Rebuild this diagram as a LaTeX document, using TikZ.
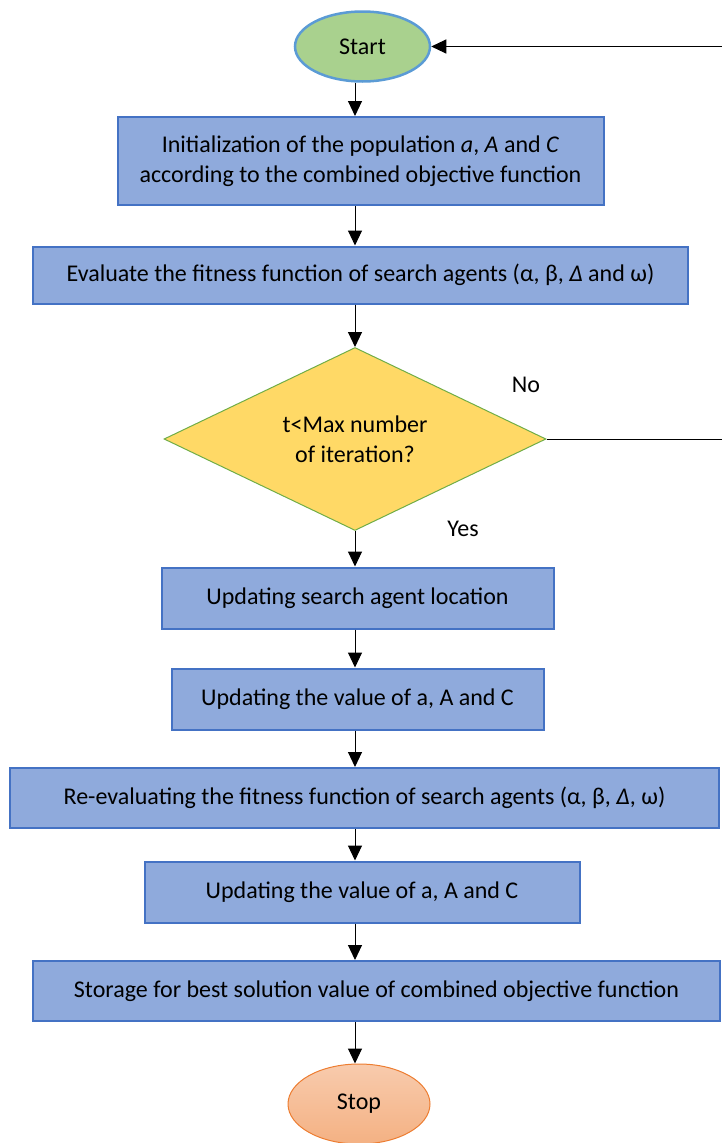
\documentclass[tikz,border=0pt]{standalone}
\usepackage{fontspec}
\setmainfont{Carlito}
\usetikzlibrary{shapes.geometric,arrows.meta,calc}
\definecolor{boxfill}{HTML}{8FAADC}
\definecolor{boxline}{HTML}{4472C4}
\definecolor{startfill}{HTML}{A9D18E}
\definecolor{startline}{HTML}{5B9BD5}
\definecolor{decfill}{HTML}{FFD966}
\definecolor{decline}{HTML}{70AD47}
\definecolor{stoptop}{HTML}{F8CBAD}
\definecolor{stopbot}{HTML}{F4B183}
\definecolor{stopline}{HTML}{ED7D31}
\begin{document}
\begin{tikzpicture}[x=1pt,y=-1pt,
  every node/.style={font=\fontsize{24}{30}\selectfont, inner sep=0pt},
  stepbox/.style={draw=boxline, fill=boxfill, line width=2pt, rectangle, align=center},
  startnode/.style={draw=startline, fill=startfill, line width=2.5pt, ellipse},
  stopnode/.style={draw=stopline, top color=stoptop, bottom color=stopbot, line width=1pt, ellipse},
  decnode/.style={draw=decline, fill=decfill, line width=1pt, diamond, aspect=2.1, align=center},
  arr/.style={draw=black, line width=1pt, -{Triangle[length=15pt,width=14pt]}}]
\useasboundingbox (0,0) rectangle (722,1143);
\coordinate (ax) at (355,0);
\node[startnode, minimum width=135, minimum height=70] (start) at (362.5,46.5) {Start};
\node[stepbox, minimum width=486, minimum height=88] (b1) at (360.5,161)
  {Initialization of the population \textit{a}, \textit{A} and \textit{C}\\according to the combined objective function};
\node[stepbox, minimum width=655, minimum height=57] (b2) at (360.5,275)
  {Evaluate the fitness function of search agents (α, β, \textit{Δ} and ω)};
\node[decnode, minimum width=382, minimum height=183] (dec) at (355,439)
  {t<Max number\\of iteration?};
\node (no) at (526,385) {No};
\node (yes) at (463,529) {Yes};
\node[stepbox, minimum width=392, minimum height=61] (b3) at (357.5,598)
  {Updating search agent location};
\node[stepbox, minimum width=372, minimum height=61] (b4) at (357.5,699)
  {Updating the value of a, A and C};
\node[stepbox, minimum width=709, minimum height=60] (b5) at (364.5,798)
  {Re-evaluating the fitness function of search agents (α, β, \textit{Δ}, ω)};
\node[stepbox, minimum width=435, minimum height=61] (b6) at (362,892)
  {Updating the value of a, A and C};
\node[stepbox, minimum width=687, minimum height=60] (b7) at (376.5,991)
  {Storage for best solution value of combined objective function};
\node[stopnode, minimum width=142, minimum height=80] (stop) at (359,1104) {Stop};
\coordinate (rt) at (730,0);
\draw[arr] (start.south -| ax) -- (b1.north -| ax);
\draw[arr] (b1.south -| ax) -- (b2.north -| ax);
\draw[arr] (b2.south -| ax) -- (dec.north);
\draw[arr] (dec.south) -- (b3.north -| ax);
\draw[arr] (b3.south -| ax) -- (b4.north -| ax);
\draw[arr] (b4.south -| ax) -- (b5.north -| ax);
\draw[arr] (b5.south -| ax) -- (b6.north -| ax);
\draw[arr] (b6.south -| ax) -- (b7.north -| ax);
\draw[arr] (b7.south -| ax) -- (stop.north -| ax);
\draw[arr] (dec.east) -- (dec.east -| rt) -- (start.east -| rt) -- (start.east);
\end{tikzpicture}
\end{document}
